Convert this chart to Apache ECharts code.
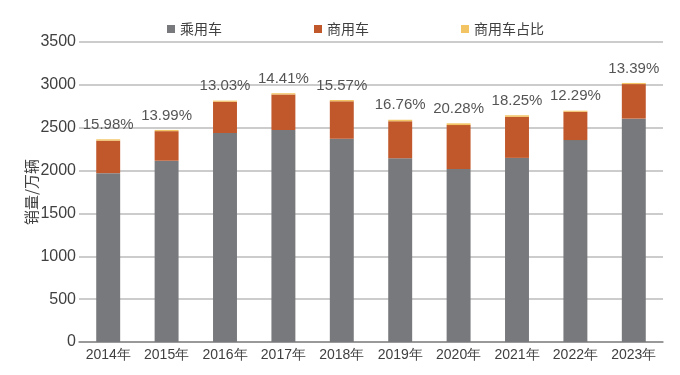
<!DOCTYPE html>
<html>
<head>
    <meta charset="utf-8">
    <title>ECharts</title>
    <script src="https://cdn.jsdelivr.net/npm/echarts@6/dist/echarts.min.js"></script>
</head>
<body style="margin:0">
    <div id="main" style="width: 680px;height:375px;"></div>
    <script type="text/javascript">
        var years = ['2014年', '2015年', '2016年', '2017年', '2018年', '2019年', '2020年', '2021年', '2022年', '2023年'];
        // 乘用车 / 商用车 销量（万辆）
        var passenger = [1970, 2115, 2438, 2472, 2371, 2144, 2018, 2148, 2356, 2606];
        var commercial = [379, 345, 365, 416, 437, 432, 513, 479, 330, 403];
        // 商用车占比（%）
        var share = [15.98, 13.99, 13.03, 14.41, 15.57, 16.76, 20.28, 18.25, 12.29, 13.39];
        var yTicks = [0, 500, 1000, 1500, 2000, 2500, 3000, 3500];

        var myChart = echarts.init(document.getElementById('main'));

        var txt = '#404040';
        var option = {
            animation: false,
            textStyle: { fontFamily: 'Liberation Sans, Arial, sans-serif' },
            legend: {
                top: 17,
                left: 162,
                itemWidth: 8,
                itemHeight: 8,
                itemGap: 92,
                icon: 'rect',
                textStyle: { fontSize: 14, color: txt, fontFamily: 'Noto Sans CJK SC' },
                data: ['乘用车', '商用车', '商用车占比']
            },
            // 纵轴标题（单独放，避免被刻度标签推开）
            graphic: [{
                type: 'text',
                x: 31,
                y: 192,
                rotation: Math.PI / 2,
                style: {
                    text: '销量/万辆',
                    fill: txt,
                    font: '15px "Noto Sans CJK SC"',
                    align: 'center',
                    verticalAlign: 'middle'
                }
            }],
            grid: { left: 79, right: 17, top: 42, bottom: 33 },
            xAxis: {
                type: 'category',
                data: years,
                axisTick: { show: false },
                axisLine: { lineStyle: { color: '#888', width: 1.5 } },
                axisLabel: { fontSize: 14, color: txt, margin: 6, interval: 0 }
            },
            yAxis: {
                type: 'value',
                min: yTicks[0],
                max: yTicks[yTicks.length - 1],
                interval: 500,
                axisLabel: {
                    fontSize: 16, color: txt, margin: 3,
                    formatter: function (v) { return String(v); }
                },
                splitLine: { lineStyle: { color: '#bbbbbb', width: 1.5 } }
            },
            series: [
                {
                    name: '乘用车',
                    type: 'bar',
                    stack: 'total',
                    barWidth: '41%',
                    itemStyle: { color: '#78797c' },
                    data: passenger
                },
                {
                    name: '商用车',
                    type: 'bar',
                    stack: 'total',
                    itemStyle: { color: '#c0582b' },
                    data: commercial
                },
                {
                    name: '商用车占比',
                    type: 'bar',
                    stack: 'total',
                    itemStyle: { color: '#f3c463' },
                    label: {
                        show: true,
                        position: 'top',
                        distance: 7,
                        fontSize: 15,
                        color: '#555',
                        formatter: function (p) { return p.value.toFixed(2) + '%'; }
                    },
                    data: share
                }
            ]
        };

        myChart.setOption(option);
    </script>
</body>
</html>
